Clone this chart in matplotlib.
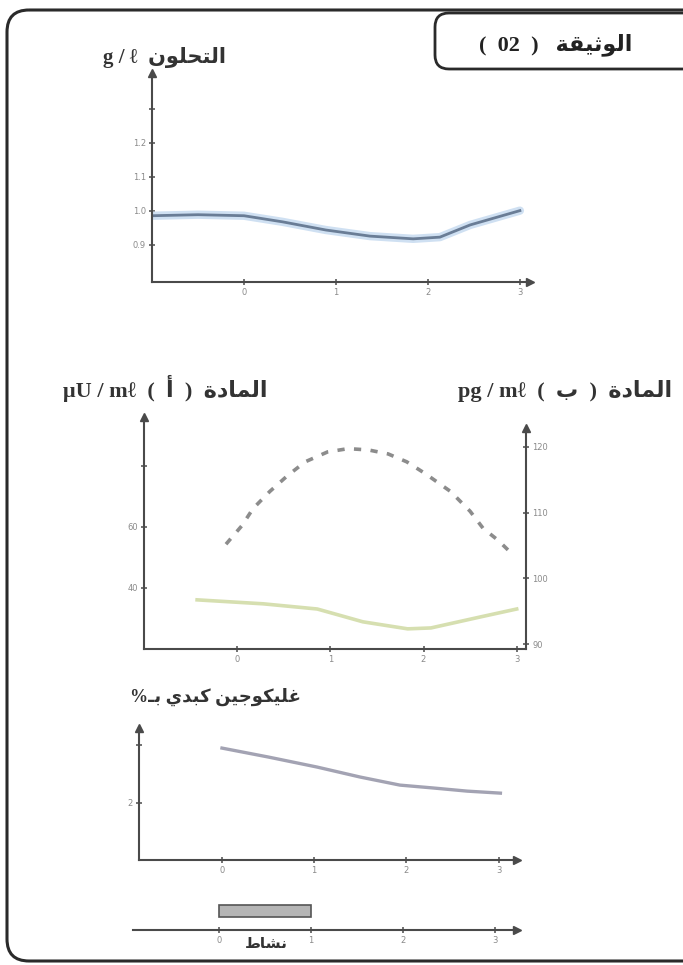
import numpy as np
import matplotlib
matplotlib.use("Agg")
import matplotlib.pyplot as plt
from matplotlib.patches import FancyBboxPatch


# --------------------------------------------------
# Data (read off the document)
# --------------------------------------------------

# glycaemia, g/l
glyc_t = [-1.0, -0.5, 0.0, 0.42, 0.89, 1.37, 1.84, 2.13, 2.46, 3.0]
glyc_v = [0.985, 0.988, 0.985, 0.967, 0.943, 0.925, 0.917, 0.922, 0.958, 1.0]
glyc_ticks = [0.9, 1.0, 1.1, 1.2, 1.3]
glyc_tick_labels = ["0.9", "1.0", "1.1", "1.2", ""]

# substance (a), µU/ml  (solid green)
ins_t = [-0.43, 0.28, 0.86, 1.35, 1.83, 2.08, 2.61, 3.0]
ins_v = [36.1, 34.8, 33.1, 28.9, 26.6, 26.9, 30.5, 33.1]
ins_ticks = [40, 60, 80]
ins_tick_labels = ["40", "60", ""]

# substance (b), pg/ml  (dashed)
glu_t = [-0.12, 0.05, 0.17, 0.35, 0.54, 0.73, 0.97, 1.19, 1.41, 1.62,
         1.82, 2.02, 2.29, 2.5, 2.64, 2.8, 2.96]
glu_v = [105.2, 108.0, 110.6, 113.2, 115.6, 117.7, 119.2, 119.7, 119.5, 118.9,
         117.7, 115.9, 113.2, 110.2, 107.6, 105.8, 103.6]
glu_ticks = [90, 100, 110, 120]

# hepatic glycogen, %
gly_t = [0.0, 0.5, 1.03, 1.5, 1.93, 2.29, 2.66, 3.02]
gly_v = [3.9, 3.59, 3.24, 2.89, 2.61, 2.51, 2.4, 2.33]
gly_ticks = [2, 4]
gly_tick_labels = ["2", ""]

# time axis (hours) and activity period
hours = [0, 1, 2, 3]
hour_labels = ["0", "1", "2", "3"]
activity = (0, 1)


# --------------------------------------------------
# Tiny Arabic shaper (presentation forms, visual order)
# --------------------------------------------------

FORMS = {
    "ا": ("\uFE8D", "\uFE8E", None, None),
    "أ": ("\uFE83", "\uFE84", None, None),
    "ب": ("\uFE8F", "\uFE90", "\uFE91", "\uFE92"),
    "ة": ("\uFE93", "\uFE94", None, None),
    "ت": ("\uFE95", "\uFE96", "\uFE97", "\uFE98"),
    "ث": ("\uFE99", "\uFE9A", "\uFE9B", "\uFE9C"),
    "ج": ("\uFE9D", "\uFE9E", "\uFE9F", "\uFEA0"),
    "ح": ("\uFEA1", "\uFEA2", "\uFEA3", "\uFEA4"),
    "د": ("\uFEA9", "\uFEAA", None, None),
    "ش": ("\uFEB5", "\uFEB6", "\uFEB7", "\uFEB8"),
    "ط": ("\uFEC1", "\uFEC2", "\uFEC3", "\uFEC4"),
    "غ": ("\uFECD", "\uFECE", "\uFECF", "\uFED0"),
    "ق": ("\uFED5", "\uFED6", "\uFED7", "\uFED8"),
    "ك": ("\uFED9", "\uFEDA", "\uFEDB", "\uFEDC"),
    "ل": ("\uFEDD", "\uFEDE", "\uFEDF", "\uFEE0"),
    "م": ("\uFEE1", "\uFEE2", "\uFEE3", "\uFEE4"),
    "ن": ("\uFEE5", "\uFEE6", "\uFEE7", "\uFEE8"),
    "و": ("\uFEED", "\uFEEE", None, None),
    "ي": ("\uFEF1", "\uFEF2", "\uFEF3", "\uFEF4"),
}
TATWEEL = "ـ"


def ar(text):
    out = []
    for i, ch in enumerate(text):
        if ch not in FORMS:
            out.append(ch)
            continue
        prev = text[i - 1] if i > 0 else ""
        nxt = text[i + 1] if i + 1 < len(text) else ""
        iso, fin, ini, med = FORMS[ch]
        join_prev = prev == TATWEEL or (prev in FORMS and FORMS[prev][2] is not None)
        join_next = ini is not None and (nxt == TATWEEL or nxt in FORMS)
        if join_prev and join_next:
            out.append(med)
        elif join_prev:
            out.append(fin)
        elif join_next:
            out.append(ini)
        else:
            out.append(iso)
    return "".join(reversed(out))


# --------------------------------------------------
# Figure
# --------------------------------------------------

W, H = 683, 965
fig = plt.figure(figsize=(W / 100, H / 100), dpi=100)
fig.patch.set_facecolor("white")

AX_C = "#4a4a4a"
TICK_C = "#8a8a8a"
FONT = ["Liberation Serif", "DejaVu Sans"]


def px_rect(x0, y_top, x1, y_bot):
    return [x0 / W, 1 - y_bot / H, (x1 - x0) / W, (y_bot - y_top) / H]


def style_axes(ax, arrow_x=True, arrow_y=True):
    for s in ["top", "right"]:
        ax.spines[s].set_visible(False)
    for s in ["left", "bottom"]:
        ax.spines[s].set_color(AX_C)
        ax.spines[s].set_linewidth(1.5)
    ax.set_facecolor("none")
    ax.tick_params(direction="inout", length=5, width=1.1, colors=AX_C,
                   labelcolor=TICK_C, labelsize=6, pad=2)
    if arrow_x:
        ax.plot(1, 0, ">", color=AX_C, ms=6, transform=ax.transAxes, clip_on=False)
    if arrow_y:
        ax.plot(0, 1, "^", color=AX_C, ms=6, transform=ax.transAxes, clip_on=False)


# background layer in pixel coordinates
bg = fig.add_axes([0, 0, 1, 1], zorder=0)
bg.set_xlim(0, W)
bg.set_ylim(H, 0)
bg.axis("off")

bg.add_patch(FancyBboxPatch((7, 10), 740, 951,
                            boxstyle="round,pad=0,rounding_size=22",
                            fc="none", ec="#2a2a2a", lw=2.2))
bg.add_patch(FancyBboxPatch((435, 13), 320, 56,
                            boxstyle="round,pad=0,rounding_size=14",
                            fc="white", ec="#2a2a2a", lw=2.0))

bg.text(556, 45, "(  02  )   " + ar("الوثيقة"), ha="center", va="center",
        fontsize=16, fontweight="bold", family=FONT, color="#222")

bg.text(103, 58, "g / ℓ  " + ar("التحلون"), ha="left", va="center",
        fontsize=15, fontweight="bold", family=FONT, color="#333")
bg.text(63, 388, "μU / mℓ  (  أ  )  " + ar("المادة"), ha="left", va="center",
        fontsize=16, fontweight="bold", family=FONT, color="#333")
bg.text(672, 391, "pg / mℓ  (  ب  )  " + ar("المادة"), ha="right", va="center",
        fontsize=16, fontweight="bold", family=FONT, color="#333")
bg.text(130, 697, "%" + ar("غليكوجين كبدي بـ"), ha="left", va="center",
        fontsize=13, fontweight="bold", family=FONT, color="#333")


# --------------------------------------------------
# Chart 1: glycaemia
# --------------------------------------------------

ax1 = fig.add_axes(px_rect(152, 73, 530, 282), zorder=2)
ax1.plot(glyc_t, glyc_v, color="#cfe0f2", lw=6, solid_capstyle="round")
ax1.plot(glyc_t, glyc_v, color="#6a7d96", lw=2.0)
ax1.set_xlim(-1, 3.11)
ax1.set_ylim(0.79, 1.405)
ax1.set_xticks(hours)
ax1.set_xticklabels(hour_labels)
ax1.set_yticks(glyc_ticks)
ax1.set_yticklabels(glyc_tick_labels)
style_axes(ax1)


# --------------------------------------------------
# Chart 2: substances (a) and (b)
# --------------------------------------------------

ax2 = fig.add_axes(px_rect(144, 417, 526, 649), zorder=2)
ax2.plot(ins_t, ins_v, color="#d6dfb0", lw=2.6)
ax2.set_xlim(-1, 3.1)
ax2.set_ylim(20, 96)
ax2.set_xticks(hours)
ax2.set_xticklabels(hour_labels)
ax2.set_yticks(ins_ticks)
ax2.set_yticklabels(ins_tick_labels)
style_axes(ax2, arrow_x=False)

ax2b = ax2.twinx()
ax2b.plot(glu_t, glu_v, color="#8c8c8c", lw=2.6, dashes=(2.0, 2.6))
ax2b.set_ylim(89.3, 124.5)
ax2b.set_yticks(glu_ticks)
for s in ["top", "left", "bottom"]:
    ax2b.spines[s].set_visible(False)
ax2b.spines["right"].set_color(AX_C)
ax2b.spines["right"].set_linewidth(1.5)
ax2b.spines["right"].set_bounds(89.3, 122.8)
ax2b.tick_params(direction="inout", length=5, width=1.1, colors=AX_C,
                 labelcolor=TICK_C, labelsize=6, pad=2)
ax2b.plot(1, 122.8, "^", color=AX_C, ms=6,
          transform=ax2b.get_yaxis_transform(), clip_on=False)


# --------------------------------------------------
# Chart 3: hepatic glycogen
# --------------------------------------------------

ax3 = fig.add_axes(px_rect(139, 728, 517, 860), zorder=2)
ax3.plot(gly_t, gly_v, color="#a3a3b3", lw=2.4)
ax3.set_xlim(-0.9, 3.2)
ax3.set_ylim(0, 4.6)
ax3.set_xticks(hours)
ax3.set_xticklabels(hour_labels)
ax3.set_yticks(gly_ticks)
ax3.set_yticklabels(gly_tick_labels)
style_axes(ax3)


# --------------------------------------------------
# Activity time line
# --------------------------------------------------

ax4 = fig.add_axes(px_rect(133, 900, 517, 930), zorder=2)
ax4.barh(0.63, activity[1] - activity[0], left=activity[0], height=0.4,
         color="#b5b5b5", edgecolor="#555555", lw=1.2)
ax4.set_xlim(-0.935, 3.24)
ax4.set_ylim(0, 1)
ax4.set_xticks(hours)
ax4.set_xticklabels(hour_labels)
ax4.set_yticks([])
style_axes(ax4, arrow_y=False)
ax4.spines["left"].set_visible(False)
bg.text(266, 944, ar("نشاط"), ha="center", va="center",
        fontsize=11, fontweight="bold", family=FONT, color="#333")

fig.savefig("out.png", dpi=100)
